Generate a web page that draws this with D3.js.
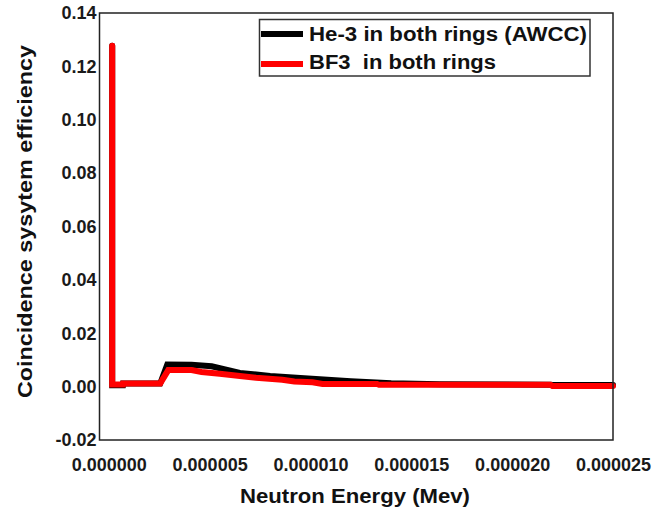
<!DOCTYPE html>
<html>
<head>
<meta charset="utf-8">
<script src="https://cdn.jsdelivr.net/npm/d3@7"></script>
<style>
  body { margin: 0; background: #fff; }
  text { font-family: "Liberation Sans", Arial, sans-serif; font-weight: bold; }
</style>
</head>
<body>
<div id="chart"></div>
<script>
// data (energy in MeV)
const heEnergy = [1.7e-7, 1.7e-7, 7.0e-7, 7.1e-7, 2.55e-6, 2.9e-6, 4.1e-6, 5.1e-6, 6.5e-6, 8.0e-6, 9.5e-6, 1.2e-5, 1.4e-5, 1.64e-5, 2.19e-5, 2.2e-5, 2.5e-5];
const heValues = [0.1277, 0.0005, 0.0005, 0.0012, 0.0012, 0.0083, 0.0082, 0.0076, 0.0051, 0.0040, 0.0032, 0.0020, 0.0013, 0.0009, 0.0007, 0.0006, 0.0006];

const bfEnergy = [1.7e-7, 1.7e-7, 7.0e-7, 7.1e-7, 2.55e-6, 2.95e-6, 4.1e-6, 4.6e-6, 5.5e-6, 6.5e-6, 7.3e-6, 8.6e-6, 9.2e-6, 1.01e-5, 1.06e-5, 1.33e-5, 1.34e-5, 2.19e-5, 2.2e-5, 2.5e-5];
const bfValues = [0.1277, 0.0008, 0.0008, 0.0012, 0.0012, 0.0062, 0.0062, 0.0055, 0.0048, 0.0040, 0.0033, 0.0026, 0.0019, 0.0016, 0.0010, 0.0010, 0.0007, 0.0007, 0.0002, 0.0002];

const seriesNames = ["He-3 in both rings (AWCC)", "BF3  in both rings"];
const seriesColors = ["#000000", "#ff0000"];

const xTicks = [0, 5e-6, 1e-5, 1.5e-5, 2e-5, 2.5e-5];
const yTicks = [-0.02, 0.00, 0.02, 0.04, 0.06, 0.08, 0.10, 0.12, 0.14];

const width = 667, height = 510;
const plot = { left: 99.5, right: 613, top: 13, bottom: 440 };

const svg = d3.select("#chart").append("svg")
    .attr("width", width)
    .attr("height", height);

const x = d3.scaleLinear().domain([-4.6e-7, 2.5e-5]).range([plot.left, plot.right]);
const y = d3.scaleLinear().domain([-0.02, 0.14]).range([plot.bottom, plot.top]);

const fmtY = d => d3.format(".2f")(d).replace("\u2212", "-");

function styleTicks(g) {
    g.select(".domain").remove();
    g.selectAll(".tick text")
        .style("font-size", "18px")
        .style("font-family", "'Liberation Sans', Arial, sans-serif")
        .style("font-weight", "bold")
        .attr("fill", "#1a1a1a");
}

// axes: labels only, the frame is drawn separately
svg.append("g")
    .attr("transform", `translate(${plot.left - 3},0)`)
    .call(d3.axisLeft(y).tickValues(yTicks).tickFormat(fmtY).tickSize(0).tickPadding(0))
    .call(styleTicks);

svg.append("g")
    .attr("transform", `translate(0,${plot.bottom + 18})`)
    .call(d3.axisBottom(x).tickValues(xTicks).tickFormat(d3.format(".6f")).tickSize(0).tickPadding(0))
    .call(styleTicks);

// series
const line = d3.line().x(d => x(d[0])).y(d => y(d[1]));
const series = [
    d3.zip(heEnergy, heValues),
    d3.zip(bfEnergy, bfValues)
];

svg.selectAll(".series")
    .data(series)
    .join("path")
    .attr("class", "series")
    .attr("d", line)
    .attr("fill", "none")
    .attr("stroke", (d, i) => seriesColors[i])
    .attr("stroke-width", 6)
    .attr("stroke-linecap", "round")
    .attr("stroke-linejoin", "miter");

// frame
svg.append("rect")
    .attr("x", plot.left)
    .attr("y", plot.top)
    .attr("width", plot.right - plot.left)
    .attr("height", plot.bottom - plot.top)
    .attr("fill", "none")
    .attr("stroke", "#222")
    .attr("stroke-width", 1.5);

// legend
const legend = svg.append("g");
legend.append("rect")
    .attr("x", 259.5).attr("y", 19.5)
    .attr("width", 330.5).attr("height", 56.5)
    .attr("fill", "#fff")
    .attr("stroke", "#333")
    .attr("stroke-width", 1.5);

const legendRows = [
    { y: 34, base: 41, len: 278 },
    { y: 64, base: 69, len: 187 }
];
legendRows.forEach((r, i) => {
    legend.append("line")
        .attr("x1", 261).attr("x2", 303)
        .attr("y1", r.y).attr("y2", r.y)
        .attr("stroke", seriesColors[i])
        .attr("stroke-width", 6);
    legend.append("text")
        .attr("x", 309).attr("y", r.base)
        .attr("textLength", r.len)
        .attr("lengthAdjust", "spacingAndGlyphs")
        .style("white-space", "pre")
        .style("font-size", "20px")
        .attr("fill", "#111")
        .text(seriesNames[i]);
});

// axis titles
svg.append("text")
    .attr("x", 355).attr("y", 503)
    .attr("text-anchor", "middle")
    .attr("textLength", 230)
    .attr("lengthAdjust", "spacingAndGlyphs")
    .style("font-size", "21px")
    .attr("fill", "#111")
    .text("Neutron Energy (Mev)");

svg.append("text")
    .attr("transform", "translate(32,221.5) rotate(-90)")
    .attr("text-anchor", "middle")
    .attr("textLength", 353)
    .attr("lengthAdjust", "spacingAndGlyphs")
    .style("font-size", "21px")
    .attr("fill", "#111")
    .text("Coincidence sysytem efficiency");
</script>
</body>
</html>
